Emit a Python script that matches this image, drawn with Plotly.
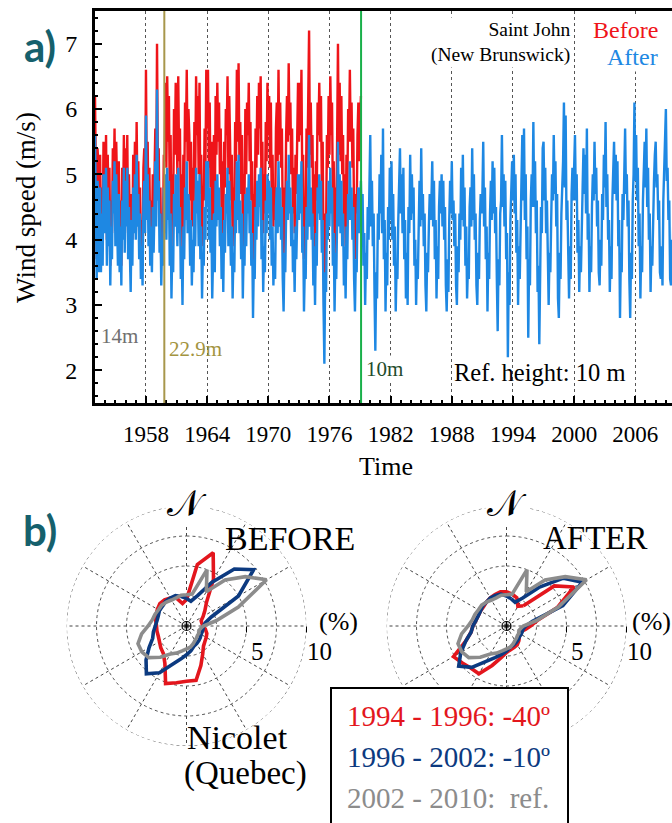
import plotly.graph_objects as go

W, H = 672, 823
SERIF = "Liberation Serif"


def fx(px):
    return px / W


def fy(py):
    return 1 - py / H


# ---------------- a) monthly mean wind speed at Saint John (m/s), Jan..Dec ----------------
START_YEAR = 1953

after_rows = [
    [5.6, 3.8, 3.4, 4.9, 4.6, 3.5, 4.8, 3.5, 4.4, 3.6, 5.0, 4.1],  # 1953
    [4.3, 5.1, 3.6, 4.8, 3.9, 4.6, 3.3, 4.2, 3.7, 4.9, 4.4, 5.2],
    [3.9, 5.0, 4.4, 3.6, 4.7, 3.5, 4.2, 3.3, 4.6, 4.0, 5.1, 3.8],
    [4.9, 4.2, 5.1, 3.7, 4.5, 4.0, 3.2, 4.3, 3.6, 4.8, 4.1, 5.0],
    [4.0, 5.3, 4.2, 4.7, 3.7, 4.4, 3.4, 3.9, 3.3, 4.6, 4.9, 4.1],
    [5.9, 4.3, 5.0, 3.9, 4.6, 3.6, 4.2, 3.5, 4.5, 3.8, 4.7, 5.2],  # 1958
    [4.2, 6.3, 4.6, 4.9, 3.8, 4.4, 3.3, 4.0, 3.6, 4.8, 4.1, 5.0],
    [4.0, 5.1, 4.3, 4.9, 3.6, 4.4, 3.1, 3.9, 3.5, 4.7, 4.2, 5.0],
    [4.6, 3.9, 5.1, 4.1, 4.5, 3.4, 3.9, 3.0, 4.2, 3.7, 4.8, 4.3],
    [5.2, 4.1, 4.7, 4.4, 3.6, 4.3, 3.3, 4.0, 3.5, 4.6, 3.9, 5.1],
    [4.4, 4.9, 3.9, 5.0, 3.7, 4.2, 3.1, 3.8, 3.6, 4.5, 4.0, 5.2],
    [4.5, 5.2, 4.0, 4.8, 3.8, 4.3, 3.1, 3.7, 4.4, 3.5, 4.9, 4.2],  # 1964
    [5.0, 4.3, 4.8, 3.9, 4.5, 3.4, 4.1, 3.2, 4.3, 3.8, 4.7, 4.4],
    [5.1, 3.9, 4.9, 4.3, 3.6, 4.2, 3.1, 3.8, 3.5, 4.6, 4.1, 5.2],
    [4.3, 5.3, 4.1, 4.6, 3.7, 4.4, 3.1, 3.9, 3.6, 4.7, 3.9, 4.8],
    [4.4, 5.0, 4.1, 4.6, 3.6, 4.1, 2.8, 3.7, 3.4, 4.5, 4.0, 4.9],
    [4.2, 5.0, 4.5, 5.1, 3.7, 4.3, 3.2, 3.9, 3.5, 4.6, 4.1, 5.0],
    [4.4, 4.9, 4.0, 4.8, 3.6, 4.2, 3.3, 3.8, 3.4, 4.5, 4.8, 4.1],  # 1970
    [5.2, 4.2, 4.8, 4.0, 4.5, 3.4, 2.9, 3.8, 3.5, 4.4, 4.9, 4.3],
    [5.3, 4.4, 4.8, 3.9, 4.5, 3.5, 4.0, 3.2, 4.2, 3.7, 4.6, 5.0],
    [4.3, 5.0, 4.4, 5.2, 3.8, 4.2, 2.9, 3.6, 3.4, 4.5, 4.0, 4.9],
    [5.6, 4.2, 4.8, 4.0, 4.4, 3.3, 3.9, 3.0, 4.1, 3.6, 4.8, 4.4],
    [5.0, 4.3, 4.9, 3.8, 4.3, 3.0, 2.1, 3.5, 3.2, 4.4, 4.0, 4.9],
    [4.2, 5.1, 4.4, 4.8, 3.6, 4.1, 2.9, 3.8, 3.4, 4.3, 5.5, 4.2],  # 1976
    [5.0, 4.1, 4.9, 3.9, 4.4, 3.3, 3.9, 3.1, 4.2, 3.7, 4.7, 4.3],
    [5.2, 4.3, 4.8, 4.0, 4.5, 3.4, 2.9, 3.7, 3.5, 4.4, 4.8, 4.1],
    [4.6, 4.9, 4.2, 4.7, 3.6, 4.1, 3.0, 3.8, 3.4, 4.5, 4.0, 5.2],
    [5.6, 4.2, 4.9, 3.9, 4.4, 3.2, 2.3, 3.5, 3.1, 4.4, 4.0, 5.0],
    [4.4, 5.3, 4.1, 5.7, 3.7, 4.3, 2.9, 3.8, 3.3, 4.5, 4.0, 5.1],
    [4.3, 5.2, 4.0, 4.7, 3.6, 4.2, 2.9, 3.6, 3.4, 4.3, 4.9, 5.4],  # 1982
    [4.4, 5.0, 4.1, 5.1, 3.7, 4.3, 3.1, 3.8, 3.0, 4.5, 4.1, 5.3],
    [4.3, 5.0, 4.4, 4.8, 3.6, 4.0, 3.0, 3.7, 3.4, 4.5, 4.9, 4.2],
    [5.4, 4.3, 4.7, 3.9, 4.4, 3.3, 2.9, 3.8, 3.5, 4.2, 4.7, 4.3],
    [4.6, 5.2, 4.2, 4.9, 3.7, 4.3, 3.1, 3.9, 3.4, 4.5, 4.9, 4.4],
    [5.0, 4.2, 4.9, 4.0, 4.5, 3.3, 2.9, 3.7, 3.2, 4.3, 4.9, 4.4],
    [5.2, 4.3, 4.6, 3.9, 4.4, 3.3, 3.0, 3.9, 3.5, 4.4, 4.0, 5.1],  # 1988
    [4.3, 5.3, 4.2, 4.8, 3.6, 4.2, 3.1, 3.6, 3.4, 4.5, 4.8, 4.2],
    [5.4, 4.3, 5.0, 4.0, 4.4, 3.3, 3.0, 3.8, 3.4, 4.3, 4.7, 4.4],
    [4.7, 5.5, 4.2, 4.8, 3.7, 4.2, 2.9, 3.8, 3.4, 4.4, 4.9, 4.3],
    [5.2, 4.4, 5.1, 4.1, 4.5, 3.4, 2.6, 3.7, 3.3, 4.4, 4.6, 5.6],
    [4.5, 5.0, 4.2, 4.9, 3.7, 4.1, 2.2, 3.5, 3.0, 4.3, 4.7, 5.2],
    [4.6, 5.3, 4.4, 5.0, 3.8, 4.3, 3.0, 3.9, 3.4, 4.5, 4.9, 5.6],  # 1994
    [4.6, 5.7, 4.3, 5.0, 3.7, 4.2, 2.5, 3.7, 3.3, 4.6, 5.0, 4.5],
    [5.8, 4.5, 5.2, 4.1, 4.6, 3.2, 3.6, 2.4, 3.9, 4.5, 4.1, 5.4],
    [5.5, 4.6, 5.1, 4.1, 4.6, 3.4, 3.0, 3.8, 3.5, 4.3, 5.0, 4.6],
    [5.6, 4.7, 5.2, 4.2, 4.7, 3.1, 2.8, 3.8, 3.4, 4.4, 4.8, 5.2],
    [6.1, 4.8, 5.9, 4.3, 4.6, 3.5, 3.1, 3.9, 3.4, 4.7, 5.1, 4.6],
    [5.2, 5.6, 4.6, 5.0, 3.8, 4.3, 3.2, 3.9, 3.5, 4.6, 4.8, 5.4],  # 2000
    [4.7, 5.3, 4.4, 5.7, 4.0, 4.4, 3.2, 3.9, 3.5, 4.5, 5.0, 4.6],
    [5.5, 4.7, 5.1, 4.2, 4.6, 3.5, 3.3, 4.0, 3.6, 4.7, 4.3, 5.3],
    [4.8, 5.8, 4.5, 5.0, 4.0, 4.3, 3.2, 3.9, 3.4, 4.6, 5.0, 5.5],
    [4.7, 5.3, 4.6, 5.2, 3.9, 4.3, 2.8, 3.8, 3.5, 4.7, 4.3, 5.4],
    [5.7, 4.7, 5.0, 4.2, 4.6, 3.4, 2.8, 3.8, 3.4, 4.6, 5.0, 6.1],
    [4.9, 5.6, 4.6, 5.1, 3.9, 4.4, 3.1, 3.9, 3.5, 4.6, 5.1, 5.5],  # 2006
    [4.8, 5.7, 4.5, 5.1, 4.0, 4.4, 3.2, 3.9, 3.6, 4.5, 4.9, 5.3],
    [5.5, 4.8, 5.0, 4.3, 4.6, 3.5, 3.4, 3.9, 3.3, 4.6, 5.0, 5.4],
    [6.0, 4.9, 5.1, 4.3, 4.6, 3.4, 3.3, 4.0, 3.6, 4.6, 5.0, 5.3],
]

before_rows = [
    [6.2, 4.2, 3.7, 5.4, 5.1, 3.9, 5.3, 3.9, 4.8, 4.0, 5.5, 4.5],  # 1953
    [4.7, 5.6, 4.0, 5.3, 4.3, 5.1, 3.6, 4.6, 4.1, 5.4, 4.8, 5.7],
    [4.3, 5.5, 4.8, 4.0, 5.2, 3.9, 4.6, 3.6, 5.1, 4.4, 5.6, 4.2],
    [5.4, 4.6, 5.6, 4.1, 5.0, 4.4, 3.5, 4.7, 4.0, 5.3, 4.5, 5.5],
    [4.4, 5.8, 4.6, 5.2, 4.1, 4.8, 3.7, 4.3, 3.6, 5.1, 5.4, 4.5],
    [6.6, 4.7, 5.5, 4.3, 5.1, 4.0, 4.6, 3.9, 5.0, 4.2, 5.2, 5.7],  # 1958
    [4.6, 7.0, 5.1, 5.4, 4.2, 4.8, 3.6, 4.4, 4.0, 5.3, 5.2, 6.4],
    [5.1, 6.5, 5.5, 6.2, 4.6, 5.6, 3.9, 5.0, 4.4, 6.0, 5.3, 6.4],
    [5.8, 5.0, 6.5, 5.2, 5.7, 4.3, 5.0, 3.8, 5.3, 4.7, 6.1, 5.5],
    [6.6, 5.2, 6.0, 5.6, 4.6, 5.5, 4.2, 5.1, 4.4, 5.8, 5.0, 6.5],
    [5.6, 6.2, 5.0, 6.4, 4.7, 5.3, 3.9, 4.8, 4.6, 5.7, 5.1, 6.6],
    [5.7, 6.6, 5.1, 6.1, 4.8, 5.5, 3.9, 4.7, 5.6, 4.4, 6.2, 5.3],  # 1964
    [6.4, 5.5, 6.1, 5.0, 5.7, 4.3, 5.2, 4.1, 5.5, 4.8, 6.0, 5.6],
    [6.5, 5.0, 6.2, 5.5, 4.6, 5.3, 3.9, 4.8, 4.4, 5.8, 5.2, 6.6],
    [5.5, 6.7, 5.2, 5.8, 4.7, 5.6, 3.9, 5.0, 4.6, 6.0, 5.0, 6.1],
    [5.6, 6.4, 5.2, 5.8, 4.6, 5.2, 3.6, 4.7, 4.3, 5.7, 5.1, 6.2],
    [5.3, 6.4, 5.7, 6.5, 4.7, 5.5, 4.1, 5.0, 4.4, 5.8, 5.2, 6.4],
    [5.6, 6.2, 5.1, 6.1, 4.6, 5.3, 4.2, 4.8, 4.3, 5.7, 6.1, 5.2],  # 1970
    [6.6, 5.3, 6.1, 5.1, 5.7, 4.3, 3.7, 4.8, 4.4, 5.6, 6.2, 5.5],
    [6.7, 5.6, 6.1, 5.0, 5.7, 4.4, 5.1, 4.1, 5.3, 4.7, 5.8, 6.4],
    [5.5, 6.4, 5.6, 6.6, 4.8, 5.3, 3.7, 4.6, 4.3, 5.7, 5.1, 6.2],
    [7.2, 5.3, 6.1, 5.1, 5.6, 4.2, 5.0, 3.8, 5.2, 4.6, 6.1, 5.6],
    [6.4, 5.5, 6.2, 4.8, 5.5, 3.8, 2.7, 4.4, 4.1, 5.6, 5.1, 6.2],
    [5.3, 6.5, 5.6, 6.1, 4.6, 5.2, 3.7, 4.8, 4.3, 5.5, 7.0, 5.3],  # 1976
    [6.4, 5.2, 6.2, 5.0, 5.6, 4.2, 5.0, 3.9, 5.3, 4.7, 6.0, 5.5],
    [6.6, 5.5, 6.1, 5.1, 5.7, 4.3, 3.7, 4.7, 4.4, 5.6, 6.1, 5.2],
    [5.8, 6.2],  # Jan-Feb 1979
]

after = [v for row in after_rows for v in row]
before = [v for row in before_rows for v in row]
t_after = [START_YEAR + i / 12 for i in range(len(after))]
t_before = [START_YEAR + i / 12 for i in range(len(before))]

# anemometer height history (year of change, label)
height_changes = [(1953.0, "14m"), (1959.8, "22.9m"), (1979.1, "10m")]

# ---------------- b) Nicolet wind roses, frequency (%) per 10-degree sector ----------------
directions = list(range(0, 360, 10))
rose_2002_2010 = [2.6, 2.7, 5.0, 3.3, 5.0, 6.4, 7.7, 4.6, 2.5, 1.4, 1.2, 1.1,
                  1.2, 1.2, 1.3, 1.4, 1.6, 1.8, 1.9, 2.1, 2.4, 2.7, 3.4, 4.1,
                  4.3, 4.3, 3.8, 3.2, 2.9, 2.8, 2.7, 2.7, 2.6, 2.5, 2.5, 2.6]
rose_1994_1996 = [2.2, 5.2, 6.5, 4.5, 2.6, 2.0, 1.6, 1.3, 1.3, 1.4, 1.6, 1.8,
                  1.9, 2.0, 2.2, 2.7, 3.5, 4.6, 4.6, 4.8, 5.1, 3.6, 3.0, 2.8,
                  2.6, 2.5, 2.5, 2.5, 2.6, 2.7, 2.8, 2.9, 2.85, 2.7, 2.5, 1.9]
rose_1996_2002 = [2.3, 2.1, 2.7, 4.2, 6.2, 7.3, 5.0, 2.2, 1.6, 1.4, 1.4, 1.4,
                  1.4, 1.5, 1.6, 1.7, 1.8, 2.1, 2.4, 2.8, 3.4, 4.5, 5.2, 4.4,
                  3.6, 3.0, 2.8, 2.6, 2.5, 2.5, 2.6, 2.6, 2.7, 2.7, 2.7, 2.5]

# period label, direction offset of the vane (deg), values, colour
periods = [
    ("1994 - 1996", -40, rose_1994_1996, "#e3161d"),
    ("1996 - 2002", -10, rose_1996_2002, "#0c3a80"),
    ("2002 - 2010", 0, rose_2002_2010, "#8c8c8c"),
]
ring_levels = [2.5, 5, 7.5, 10]
radial_labels = [5, 10]

RED = "#ef1419"
BLUE = "#1e88e3"

fig = go.Figure()

# time series
fig.add_trace(go.Scatter(x=t_before, y=before, mode="lines",
                         line=dict(color=RED, width=2.4), hoverinfo="skip",
                         showlegend=False))
fig.add_trace(go.Scatter(x=t_after, y=after, mode="lines",
                         line=dict(color=BLUE, width=2.4), hoverinfo="skip",
                         showlegend=False))

# wind roses: raw directions (BEFORE) and corrected by the offset (AFTER)
ring_theta = list(range(0, 361, 3))
for sub in ("polar", "polar2"):
    for lvl in ring_levels:
        fig.add_trace(go.Scatterpolar(
            r=[lvl] * len(ring_theta), theta=ring_theta, mode="lines",
            line=dict(color="#555", width=1, dash="dot"),
            hoverinfo="skip", showlegend=False, subplot=sub))

for label, offset, vals, color in periods:
    theta_b = directions + [directions[0]]
    r_b = vals + [vals[0]]
    theta_a = [d - offset for d in theta_b]
    fig.add_trace(go.Scatterpolar(r=r_b, theta=theta_b, mode="lines",
                                  line=dict(color=color, width=3.6),
                                  hoverinfo="skip", showlegend=False,
                                  subplot="polar"))
    fig.add_trace(go.Scatterpolar(r=r_b, theta=theta_a, mode="lines",
                                  line=dict(color=color, width=3.6),
                                  hoverinfo="skip", showlegend=False,
                                  subplot="polar2"))

for sub in ("polar", "polar2"):
    fig.add_trace(go.Scatterpolar(r=[0], theta=[0], mode="markers",
                                  marker=dict(symbol="circle-cross-open", size=9,
                                              color="black", line=dict(width=1.2)),
                                  hoverinfo="skip", showlegend=False, subplot=sub))

polar_common = dict(
    bgcolor="rgba(0,0,0,0)",
    angularaxis=dict(rotation=90, direction="clockwise", dtick=30,
                     showticklabels=False, ticks="", showline=False,
                     gridcolor="#444", griddash="dot", gridwidth=1),
    radialaxis=dict(range=[0, 10], angle=0, tickvals=radial_labels,
                    showticklabels=False, showgrid=False, showline=False,
                    ticks="outside", ticklen=6, tickcolor="black",
                    side="clockwise"),
)

R = 120
cy = 626
centers = [186.5, 506.5]
fig.update_layout(
    polar=dict(domain=dict(x=[fx(centers[0] - R), fx(centers[0] + R)],
                           y=[fy(cy + R), fy(cy - R)]), **polar_common),
    polar2=dict(domain=dict(x=[fx(centers[1] - R), fx(centers[1] + R)],
                            y=[fy(cy + R), fy(cy - R)]), **polar_common),
)

fig.update_layout(
    width=W, height=H,
    margin=dict(l=0, r=0, t=0, b=0),
    paper_bgcolor="white", plot_bgcolor="white",
    font=dict(family=SERIF, color="black"),
    showlegend=False,
    xaxis=dict(domain=[fx(95), 1.0], range=[1953.0, 2009.6],
               tick0=1958, dtick=6, ticks="inside", ticklen=7, tickwidth=2,
               tickcolor="black",
               minor=dict(dtick=1, tick0=1953, ticks="inside", ticklen=3,
                          tickwidth=2, tickcolor="black"),
               showline=True, linewidth=3, linecolor="black", mirror=True,
               showgrid=True, gridcolor="#555", griddash="dot", gridwidth=1,
               zeroline=False, ticklabelstandoff=8,
               tickfont=dict(family=SERIF, size=23, color="black")),
    yaxis=dict(domain=[fy(403), fy(11)], range=[1.5, 7.5],
               tick0=0, dtick=1, ticks="inside", ticklen=7, tickwidth=2,
               tickcolor="black",
               minor=dict(dtick=0.2, ticks="inside", ticklen=3, tickwidth=2,
                          tickcolor="black"),
               showline=True, linewidth=3, linecolor="black", mirror=False,
               showgrid=False, zeroline=False, ticklabelstandoff=10,
               tickfont=dict(family=SERIF, size=24, color="black")),
)

shapes = []
line_colors = {"22.9m": "#a8974c", "10m": "#19b04a"}
text_colors = {"14m": "#707070", "22.9m": "#a39440", "10m": "#1f4c2c"}
label_y = {"14m": 2.52, "22.9m": 2.32, "10m": 2.02}
annotations = []
for year, lab in height_changes:
    if lab in line_colors:
        shapes.append(dict(type="line", xref="x", yref="paper", x0=year, x1=year,
                           y0=fy(403), y1=fy(11), layer="above",
                           line=dict(color=line_colors[lab], width=2)))
    annotations.append(dict(x=year, y=label_y[lab], xref="x", yref="y",
                            text=lab, showarrow=False, xanchor="left",
                            xshift=3 if lab != "14m" else 4,
                            bgcolor="white" if lab == "10m" else None,
                            font=dict(family=SERIF, size=21, color=text_colors[lab])))

# legend box of the wind roses
shapes.append(dict(type="rect", xref="paper", yref="paper",
                   x0=fx(331), x1=fx(568), y0=fy(830), y1=fy(688),
                   fillcolor="white", line=dict(color="black", width=2),
                   layer="above"))
fig.update_layout(shapes=shapes)


def txt(x, y, text, size, color="black", xanchor="center", **kw):
    annotations.append(dict(x=fx(x), y=fy(y), xref="paper", yref="paper",
                            text=text, showarrow=False, xanchor=xanchor,
                            yanchor="middle",
                            font=dict(family=kw.pop("family", SERIF), size=size,
                                      color=color), **kw))


txt(452, 372, "Ref. height: 10 m", 24.5, xanchor="left")
txt(572, 42, "Saint John<br>(New Brunswick)", 19.5, xanchor="right", align="right",
    bgcolor="white")
txt(660, 30, "Before", 24, RED, xanchor="right", bgcolor="white")
txt(660, 57, "After", 24, BLUE, xanchor="right", bgcolor="white")
txt(386, 466, "Time", 26)
txt(26, 208, "Wind speed (m/s)", 27, textangle=-90)
txt(40, 46, "<b>a)</b>", 42, "#15606c", family="Lato")
txt(40, 530, "<b>b)</b>", 42, "#15606c", family="Lato")

px_per_pct = R / 10
for cx in centers:
    txt(cx, 504, "𝒩", 36, bgcolor="white")
    txt(min(cx + 152, 651), 621, "(%)", 26)
    for v in radial_labels:
        txt(cx + v * px_per_pct + 8 + v * 0.5, 651, str(v), 25)
txt(290, 538, "BEFORE", 34)
txt(595, 538, "AFTER", 33)
txt(237, 737, "Nicolet", 34)
txt(245, 773, "(Quebec)", 33)

for i, (label, offset, _, color) in enumerate(periods):
    tag = f"{offset}º" if offset else " ref."
    txt(345, 716 + 41 * i, f"{label}: {tag}", 29, color, xanchor="left")

fig.update_layout(annotations=annotations)
fig.write_html("out.html")
